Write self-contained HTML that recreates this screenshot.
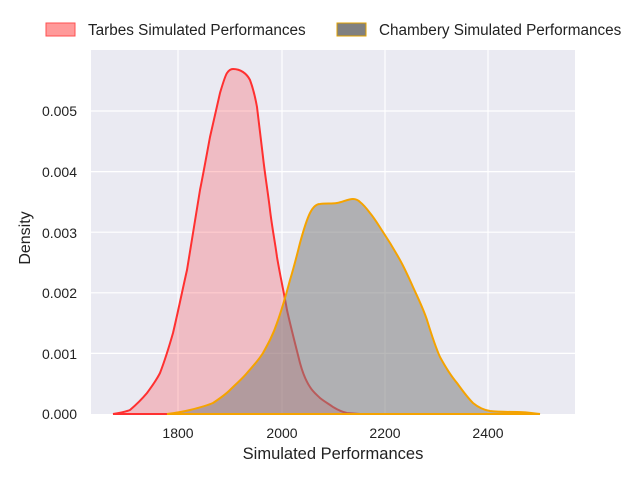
<!DOCTYPE html>
<html><head><style>body{margin:0;background:#fff}</style></head><body>
<svg width="640" height="480" xmlns="http://www.w3.org/2000/svg" font-family="Liberation Sans, DejaVu Sans, sans-serif">
<rect x="91" y="50" width="484" height="364" fill="#eaeaf2"/>
<g stroke="#fff" stroke-width="1.2">
<line x1="178" y1="50" x2="178" y2="414"/><line x1="282" y1="50" x2="282" y2="414"/><line x1="385" y1="50" x2="385" y2="414"/><line x1="488" y1="50" x2="488" y2="414"/>
<line x1="91" y1="353.4" x2="575" y2="353.4"/><line x1="91" y1="292.8" x2="575" y2="292.8"/><line x1="91" y1="232.2" x2="575" y2="232.2"/><line x1="91" y1="171.6" x2="575" y2="171.6"/><line x1="91" y1="111" x2="575" y2="111"/>
</g>
<path d="M113,414 C120,413 125,412 130,410 C137,404 142,399 147,393 C152,386 156,381 160,373 C165,360 169,347 173,333 C178,312 182,292 187,270 C192,240 196,215 200,190 C204,170 207,153 210,137 C214,120 217,106 220,93 C223,83 225,76 227,73 C229,70 231,69 233,69 C237,69 240,70 243,72 C246,74 248,76 250,80 C253,88 255,96 257,107 C259,123 261,140 263,157 C265,175 268,193 270,210 C272,227 275,242 277,257 C280,275 284,293 287,310 C291,328 296,347 300,363 C303,374 306,381 310,387 C313,392 317,395 320,398 C325,402 329,404 333,407 C338,410 342,412 347,413 L360,414 Z" fill="rgba(255,40,50,0.24)" stroke="#ff3030" stroke-width="2"/>
<path d="M167,414 C175,413 182,412 190,410 C198,408 206,406 213,403 C219,399 225,395 230,390 C236,384 242,379 247,373 C253,366 258,361 263,353 C268,344 273,335 277,323 C282,309 286,295 290,280 C294,267 297,255 300,243 C303,232 306,221 310,213 C313,207 316,204 320,204 C326,203 331,204 337,203 C343,202 348,199 353,199 C356,199 358,200 360,202 C364,205 367,209 370,213 C375,219 379,226 383,232 C389,241 395,251 400,260 C405,269 409,278 413,287 C418,298 423,308 427,320 C431,333 435,346 440,357 C446,368 451,376 457,383 C462,390 467,397 473,403 C479,408 484,410 490,411 C499,412 508,412 517,412 C525,412 532,413 540,414 Z" fill="rgba(128,128,128,0.55)" stroke="#f5a300" stroke-width="2"/>
<g font-size="14" fill="#222" text-anchor="middle">
<text x="178" y="438">1800</text><text x="282" y="438">2000</text><text x="385" y="438">2200</text><text x="488" y="438">2400</text>
</g>
<g font-size="14" fill="#222" text-anchor="end">
<text x="77" y="419">0.000</text><text x="77" y="359">0.001</text><text x="77" y="298">0.002</text><text x="77" y="238">0.003</text><text x="77" y="177">0.004</text><text x="77" y="116">0.005</text>
</g>
<text x="333" y="459" font-size="16.5" fill="#222" text-anchor="middle">Simulated Performances</text>
<text transform="translate(30,238) rotate(-90)" font-size="16" fill="#222" text-anchor="middle">Density</text>
<rect x="46" y="23" width="29" height="13" fill="#ff9a9a" stroke="#ff5050"/>
<text x="88" y="35" font-size="15.3" fill="#222">Tarbes Simulated Performances</text>
<rect x="337" y="23" width="29" height="13" fill="#808080" stroke="#e0a000"/>
<text x="379" y="35" font-size="15.3" fill="#222">Chambery Simulated Performances</text>
</svg>
</body></html>
